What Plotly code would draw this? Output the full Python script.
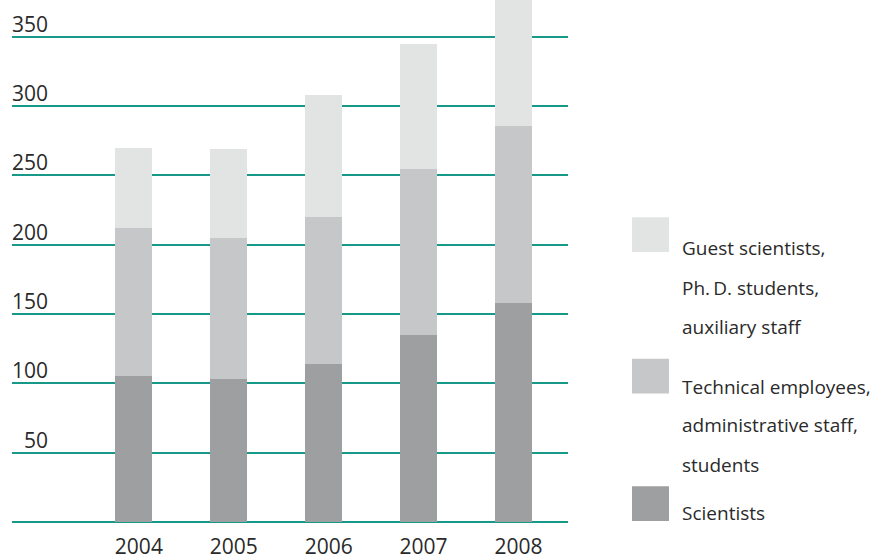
import plotly.graph_objects as go

years = [2004, 2005, 2006, 2007, 2008]
scientists = [105, 103, 114, 135, 158]
technical = [107, 102, 106, 120, 128]
guests = [58, 64, 88, 90, 105]

y_ticks = [50, 100, 150, 200, 250, 300, 350]

series_names = ["Scientists", "Technical employees, administrative staff, students",
                "Guest scientists, Ph. D. students, auxiliary staff"]
legend_lines = {
    "guest": ["Guest scientists,", "Ph.\u2009D. students,", "auxiliary staff"],
    "tech": ["Technical employees,", "administrative staff,", "students"],
    "sci": ["Scientists"],
}

C_SCI = "#9e9fa1"
C_TECH = "#c6c7c8"
C_GUEST = "#e2e3e3"
GRID = "#17998a"
TXT = "#2a2a2a"
FONT = "Open Sans"
WT = 400

W, H = 887, 560
ML, MR, MT, MB = 12, 319, 0, 36
PW = W - ML - MR
PH = H - MT - MB


def px(xp):
    return (xp - ML) / PW


def py(yp):
    return (H - MB - yp) / PH


fig = go.Figure()
for vals, col, name in [(scientists, C_SCI, series_names[0]),
                        (technical, C_TECH, series_names[1]),
                        (guests, C_GUEST, series_names[2])]:
    fig.add_trace(go.Bar(x=years, y=vals, marker=dict(color=col, line=dict(width=0)),
                         width=0.39, name=name, showlegend=False))

fig.update_layout(
    barmode="stack",
    width=W, height=H,
    margin=dict(l=ML, r=MR, t=MT, b=MB),
    paper_bgcolor="white", plot_bgcolor="white",
    font=dict(family=FONT, color=TXT, size=20, weight=WT),
    xaxis=dict(range=[2002.716, 2008.574], tickvals=years, ticktext=[str(y) for y in years],
               showgrid=False, zeroline=False, showline=False, ticks="",
               tickfont=dict(size=21, family=FONT, color=TXT, weight=WT),
               ticklabelshift=5, ticklabelstandoff=10),
    yaxis=dict(range=[0, 376.6], tickvals=[0] + y_ticks, showticklabels=False,
               showgrid=True, gridcolor=GRID, gridwidth=1.5,
               zeroline=True, zerolinecolor=GRID, zerolinewidth=1.5, showline=False),
)

annotations = []
for v in y_ticks:
    annotations.append(dict(x=px(50), xref="paper", y=v, yref="y", text=str(v),
                            xanchor="right", yanchor="bottom", showarrow=False,
                            font=dict(size=21, family=FONT, color=TXT, weight=WT),
                            yshift=-3))

shapes = []
legend_spec = [("guest", C_GUEST, 218, [249, 289, 328]),
               ("tech", C_TECH, 360, [388, 427, 467]),
               ("sci", C_SCI, 488, [515])]
for key, col, top, ys in legend_spec:
    shapes.append(dict(type="rect", xref="paper", yref="paper",
                       x0=px(632), x1=px(669), y0=py(top + 35), y1=py(top),
                       fillcolor=col, line=dict(width=0)))
    for line, yy in zip(legend_lines[key], ys):
        annotations.append(dict(x=px(680), xref="paper", y=py(yy), yref="paper", text=line,
                                xanchor="left", yanchor="middle", showarrow=False,
                                font=dict(size=19, family=FONT, color=TXT, weight=WT)))

fig.update_layout(annotations=annotations, shapes=shapes)
fig.write_html("out.html")
